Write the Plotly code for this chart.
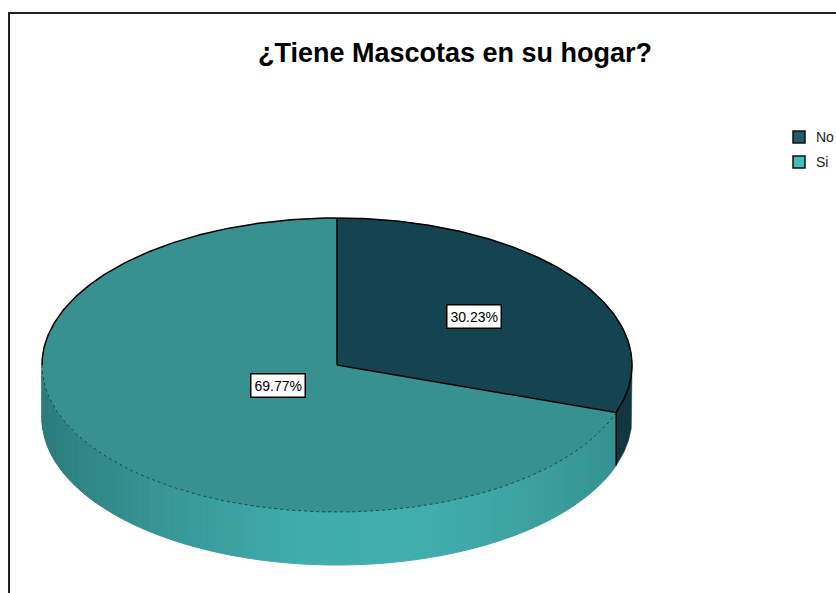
import numpy as np
import plotly.graph_objects as go

# ---- data ----
categories = ["No", "Si"]
percentages = [30.23, 69.77]
label_texts = ["30.23%", "69.77%"]
top_colors = ["#144452", "#389191"]
side_colors = ["#12363f", None]  # None -> gradient
legend_colors = ["#1e5b6c", "#41bdbd"]
title_text = "¿Tiene Mascotas en su hogar?"

# ---- geometry (layout, pixel space of the browser window) ----
W, H = 836, 593
cx, cy, rx, ry, depth = 337, 365, 295, 147, 53
label_frac = [0.57, 0.245]
FONT = "Liberation Sans, Arial, sans-serif"


def pt(t, dy=0.0):
    r = np.radians(t)
    return cx + rx * np.cos(r), cy - ry * np.sin(r) + dy


def arc(t0, t1, n=200, dy=0.0):
    ts = np.linspace(t0, t1, n)
    xs, ys = pt(ts, dy)
    return list(xs), list(ys)


# gradient for the light side
grad_x = [42, 150, 300, 420, 520, 616, 632]
grad_c = [(44, 124, 124), (54, 148, 148), (64, 172, 172), (65, 174, 174),
          (61, 163, 163), (54, 145, 145), (52, 140, 140)]


def grad_color(x):
    c = [np.interp(x, grad_x, [g[i] for g in grad_c]) for i in range(3)]
    return "rgb(%d,%d,%d)" % tuple(int(round(v)) for v in c)


fig = go.Figure()

# slice angle ranges (start at 12 o'clock, clockwise)
ranges = []
start = 90.0
for p in percentages:
    end = start - p * 3.6
    ranges.append((end, start))
    start = end

# ---- sides ----
for i, (a, b) in enumerate(ranges):
    for k in range(-2, 3):
        lo, hi = max(a, -180 + 360 * k), min(b, 0 + 360 * k)
        if hi <= lo:
            continue
        if side_colors[i] is not None:
            tx, ty = arc(lo, hi, 60)
            bx, by = arc(hi, lo, 60, depth)
            fig.add_trace(go.Scatter(x=tx + bx + [tx[0]], y=ty + by + [ty[0]],
                                     fill="toself", fillcolor=side_colors[i],
                                     mode="lines", line=dict(color=side_colors[i], width=0.5),
                                     hoverinfo="skip", showlegend=False))
        else:
            n = int(np.ceil((hi - lo) / 1.5))
            edges = np.linspace(lo, hi, n + 1)
            for j in range(n):
                t0, t1 = edges[j], edges[j + 1]
                x0, y0 = pt(t0)
                x1, y1 = pt(t1)
                xm, _ = pt((t0 + t1) / 2)
                col = grad_color(xm)
                fig.add_trace(go.Scatter(
                    x=[x0, x1, x1, x0, x0], y=[y0, y1, y1 + depth, y0 + depth, y0],
                    fill="toself", fillcolor=col, mode="lines",
                    line=dict(color=col, width=1), hoverinfo="skip", showlegend=False))

# ---- tops ----
for i, (a, b) in enumerate(ranges):
    xs, ys = arc(b, a, 300)
    fig.add_trace(go.Scatter(x=[cx] + xs + [cx], y=[cy] + ys + [cy],
                             fill="toself", fillcolor=top_colors[i], mode="lines",
                             line=dict(color=top_colors[i], width=0.5),
                             hoverinfo="skip", showlegend=False))

# ---- outlines ----
no_end = ranges[0][0]
xs, ys = arc(no_end, 180, 300)
fig.add_trace(go.Scatter(x=xs, y=ys, mode="lines", line=dict(color="black", width=1.5),
                         hoverinfo="skip", showlegend=False))
xs, ys = arc(180, 360 + no_end, 300)
fig.add_trace(go.Scatter(x=xs, y=ys, mode="lines",
                         line=dict(color="rgba(10,50,50,0.75)", width=1, dash="dot"),
                         hoverinfo="skip", showlegend=False))
for t in [90, no_end]:
    x1, y1 = pt(t)
    fig.add_trace(go.Scatter(x=[cx, x1], y=[cy, y1], mode="lines",
                             line=dict(color="black", width=1.5),
                             hoverinfo="skip", showlegend=False))
x1, y1 = pt(no_end)
fig.add_trace(go.Scatter(x=[x1, x1], y=[y1, y1 + depth], mode="lines",
                         line=dict(color="black", width=1.5),
                         hoverinfo="skip", showlegend=False))

# ---- labels ----
annotations = []
for i, (a, b) in enumerate(ranges):
    mid = (a + b) / 2
    r = np.radians(mid)
    lx = cx + rx * label_frac[i] * np.cos(r)
    ly = cy - ry * label_frac[i] * np.sin(r)
    annotations.append(dict(x=lx, y=ly, xref="x", yref="y", text=label_texts[i],
                            showarrow=False, bgcolor="white", bordercolor="black",
                            borderwidth=1.5, borderpad=3,
                            font=dict(family=FONT, size=14, color="black")))

# ---- legend ----
leg_x, leg_y0, leg_dy = 799, 137, 25
fig.add_trace(go.Scatter(x=[leg_x] * len(categories),
                         y=[leg_y0 + k * leg_dy for k in range(len(categories))],
                         mode="markers",
                         marker=dict(symbol="square", size=12, color=legend_colors,
                                     line=dict(color="#111", width=1.5)),
                         hoverinfo="skip", showlegend=False))
for k, c in enumerate(categories):
    annotations.append(dict(x=leg_x + 15, y=leg_y0 + k * leg_dy, xref="x", yref="y",
                            text=c, showarrow=False, xanchor="left",
                            font=dict(family=FONT, size=14, color="#222")))

# title
annotations.append(dict(x=455, y=53, xref="x", yref="y", text="<b>%s</b>" % title_text,
                        showarrow=False, font=dict(family=FONT, size=27, color="black")))

fig.update_layout(
    width=W, height=H, autosize=False,
    margin=dict(l=0, r=0, t=0, b=0),
    paper_bgcolor="white", plot_bgcolor="white",
    xaxis=dict(range=[0, W], visible=False, fixedrange=True),
    yaxis=dict(range=[H, 0], visible=False, fixedrange=True),
    annotations=annotations,
    shapes=[dict(type="rect", xref="x", yref="y", x0=9, y0=13, x1=W + 20, y1=H + 20,
                 line=dict(color="#222", width=2), layer="above")],
    showlegend=False,
)

fig.write_html("out.html", config={"displayModeBar": False},
               post_script="document.body.style.margin='0';document.body.style.overflow='hidden';")
